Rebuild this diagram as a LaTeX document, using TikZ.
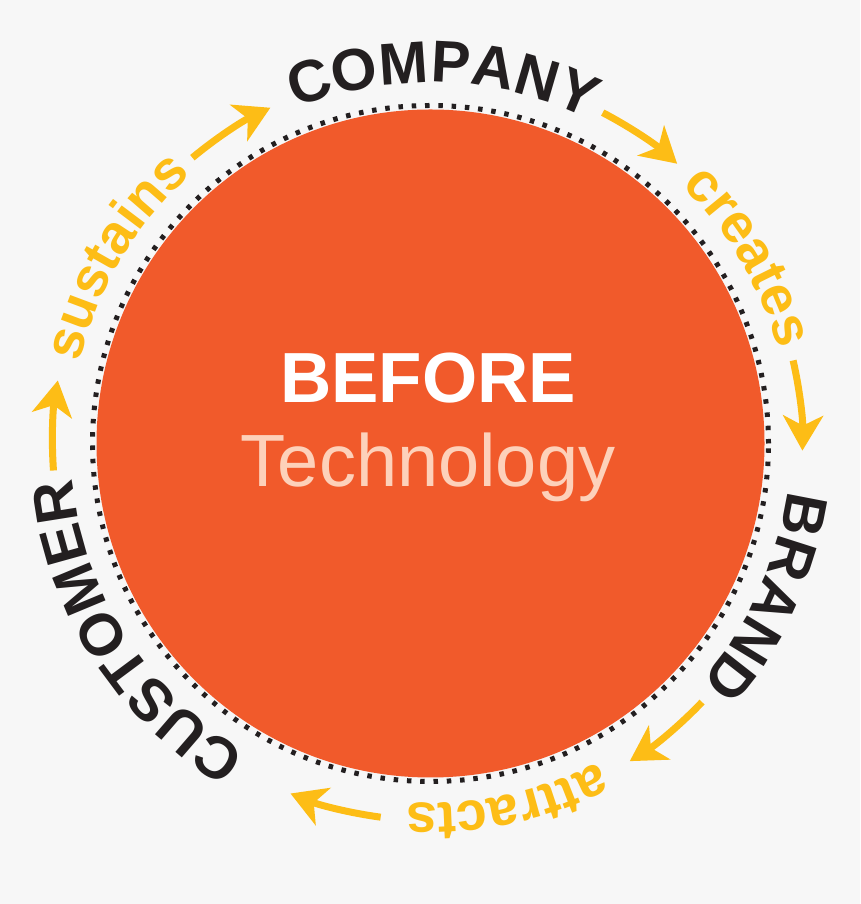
\documentclass[tikz,border=0pt]{standalone}
\usepackage{fontspec}
\setmainfont{Liberation Sans}
\usetikzlibrary{decorations.text}
\usetikzlibrary{arrows.meta}

\definecolor{ink}{HTML}{231F20}
\definecolor{blaze}{HTML}{F15A2B}
\definecolor{sun}{HTML}{FDBD16}
\definecolor{peach}{HTML}{FDD1BA}
\definecolor{paper}{HTML}{F7F7F7}

\newcommand\ringcaps{\fontsize{59}{59}\selectfont\bfseries}
\newcommand\ringsmall{\fontsize{55}{55}\selectfont\bfseries}

\tikzset{
  ringword/.style={decorate, decoration={text along path, text align=center, text color=#1}},
  flow/.style={color=sun, line width=7pt, -{Stealth[length=35pt, width=40pt, inset=10pt]}}
}

\begin{document}
\begin{tikzpicture}[x=1pt, y=1pt]
\useasboundingbox (0,0) rectangle (860,904);
\fill[paper] (0,0) rectangle (860,904);

\coordinate (ctr) at (430.5,460.5);
\fill[blaze] (ctr) circle[radius=334pt];
\draw[ink, line width=5pt, dash pattern=on 4.5pt off 8.8pt] (ctr) circle[radius=338pt];

\node[font=\fontsize{71}{71}\selectfont\bfseries, text=white, anchor=base] (before) at (428,501) {BEFORE};
\node[font=\fontsize{74}{74}\selectfont, text=peach, anchor=base] (tech) at (428,417) {Technology};

% words round the ring
\path[ringword=ink, decoration={text={|\ringcaps|COMPANY}}]
  ([shift={(123:361pt)}]ctr) arc[start angle=123, end angle=53, radius=361pt];
\path[ringword=sun, decoration={text={|\ringsmall|creates}}]
  ([shift={(55.5:360pt)}]ctr) arc[start angle=55.5, end angle=5.5, radius=360pt];
\path[ringword=ink, decoration={text={|\ringcaps|BRAND}}]
  ([shift={(0.5:360pt)}]ctr) arc[start angle=0.5, end angle=-49.5, radius=360pt];
\path[ringword=sun, decoration={text={|\ringsmall|attracts}}]
  ([shift={(-53:360pt)}]ctr) arc[start angle=-53, end angle=-103, radius=360pt];
\path[ringword=ink, decoration={text={|\ringcaps|CUSTOMER}}]
  ([shift={(247.5:360pt)}]ctr) arc[start angle=247.5, end angle=177.5, radius=360pt];
\path[ringword=sun, decoration={text={|\ringsmall|sustains}}]
  ([shift={(174.3:360pt)}]ctr) arc[start angle=174.3, end angle=124.3, radius=360pt];

% arrows between the words
\foreach \from/\to/\rad in {129.8/115.5/372, 62.5/48.6/373, 12.9/-1.1/372,
    -43.6/-57.9/375, -97.6/-111.8/377, 184.1/170.4/378}
  \draw[flow] ([shift={(\from:\rad pt)}]ctr) arc[start angle=\from, end angle=\to, radius=\rad pt];
\end{tikzpicture}
\end{document}
